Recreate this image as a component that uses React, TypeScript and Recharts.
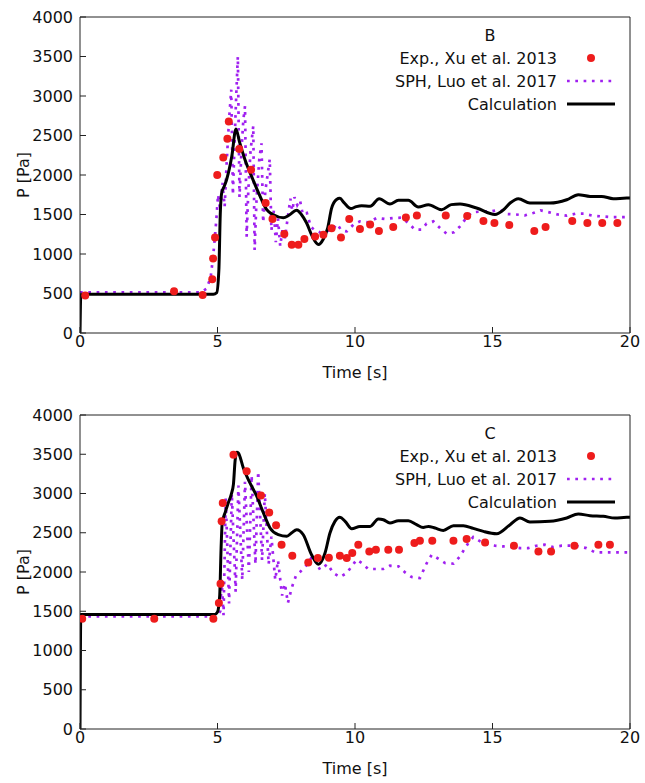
import React from 'react';
import { ComposedChart, Line, Scatter, XAxis, YAxis, Legend } from 'recharts';

// [time s, pressure Pa]
const B_EXP: [number, number][] = [
  [0.19, 476], [3.42, 527], [4.46, 482], [4.81, 680], [4.84, 944], [4.91, 1210],
  [4.99, 2000], [5.21, 2222], [5.36, 2459], [5.41, 2678], [5.79, 2329], [6.22, 2067],
  [6.75, 1646], [7.0, 1443], [7.43, 1253], [7.7, 1118], [7.94, 1118], [8.16, 1190],
  [8.55, 1222], [8.85, 1243], [9.15, 1327], [9.49, 1210], [9.79, 1443], [10.18, 1316],
  [10.55, 1375], [10.87, 1292], [11.39, 1343], [11.85, 1461], [12.25, 1486], [13.3, 1486],
  [14.08, 1481], [14.67, 1418], [15.07, 1393], [15.61, 1368], [16.52, 1292], [16.93, 1343],
  [17.9, 1418], [18.45, 1393], [18.99, 1393], [19.54, 1393],
];

const B_SPH: [number, number][] = [
  [0, 515], [4.4, 515], [4.6, 560], [4.75, 700], [4.85, 1000], [4.95, 1400], [5.02, 1750],
  [5.1, 1550], [5.18, 1900], [5.26, 1600], [5.34, 2200], [5.42, 2700], [5.5, 3080],
  [5.56, 1750], [5.62, 2400], [5.68, 3000], [5.74, 3500], [5.8, 1720], [5.87, 2300],
  [5.94, 2700], [6.0, 2870], [6.06, 1220], [6.12, 1800], [6.2, 2300], [6.3, 2620],
  [6.35, 1050], [6.42, 1700], [6.52, 2200], [6.6, 2400], [6.66, 1400], [6.74, 1800],
  [6.82, 2000], [6.9, 2200], [6.96, 1300], [7.05, 1550], [7.12, 1150], [7.2, 1450],
  [7.28, 1100], [7.36, 1300], [7.45, 1200], [7.55, 1450], [7.65, 1700], [7.72, 1550],
  [7.8, 1720], [7.9, 1620], [8.0, 1680], [8.1, 1500], [8.25, 1520], [8.4, 1340],
  [8.55, 1300], [8.75, 1270], [8.95, 1290], [9.15, 1300], [9.35, 1380], [9.5, 1300],
  [9.7, 1286], [9.94, 1371], [10.18, 1413], [10.48, 1400], [10.79, 1456], [11.09, 1443],
  [11.39, 1456], [11.7, 1460], [11.94, 1392], [12.18, 1308], [12.42, 1308], [12.6, 1384],
  [12.85, 1413], [13.09, 1329], [13.33, 1257], [13.6, 1274], [13.82, 1350], [14.0, 1434],
  [14.24, 1527], [14.67, 1540], [14.97, 1540], [15.25, 1561], [15.54, 1506], [15.85, 1500],
  [16.18, 1489], [16.48, 1519], [16.75, 1552], [17.07, 1527], [17.37, 1500], [17.7, 1485],
  [18.02, 1510], [18.33, 1510], [18.64, 1485], [18.97, 1476], [19.27, 1468], [19.6, 1468],
  [19.94, 1468],
];

const B_CALC: [number, number][] = [
  [0, 0], [0.03, 490], [1, 490], [2, 490], [3, 490], [4, 490], [4.85, 490], [4.97, 510],
  [5.05, 800], [5.1, 1500], [5.15, 1770], [5.25, 1860], [5.33, 1940], [5.52, 2236],
  [5.67, 2582], [5.8, 2420], [6.0, 2194], [6.24, 1982], [6.55, 1729], [6.79, 1561],
  [7.03, 1497], [7.39, 1460], [7.6, 1490], [7.88, 1555], [8.05, 1500], [8.24, 1392],
  [8.45, 1220], [8.67, 1120], [8.85, 1190], [9.0, 1320], [9.15, 1580], [9.33, 1690],
  [9.45, 1705], [9.6, 1650], [9.85, 1575], [10.05, 1600], [10.24, 1611], [10.55, 1603],
  [10.88, 1700], [11.27, 1633], [11.58, 1679], [11.94, 1679], [12.3, 1595], [12.67, 1624],
  [13.15, 1561], [13.5, 1625], [13.82, 1633], [14.42, 1582], [15.09, 1500], [15.4, 1560],
  [15.64, 1645], [15.94, 1700], [16.36, 1645], [17.09, 1645], [17.7, 1687], [18.12, 1750],
  [18.55, 1729], [18.97, 1729], [19.39, 1700], [19.88, 1708], [20, 1708],
];

const C_EXP: [number, number][] = [
  [0.08, 1405], [2.7, 1405], [4.85, 1405], [5.05, 1605], [5.11, 1851], [5.15, 2645],
  [5.19, 2879], [5.58, 3494], [6.06, 3282], [6.58, 2976], [6.88, 2759], [7.13, 2594],
  [7.33, 2348], [7.72, 2208], [8.3, 2122], [8.65, 2178], [9.05, 2180], [9.45, 2208],
  [9.7, 2178], [9.9, 2242], [10.12, 2348], [10.52, 2262], [10.76, 2284], [11.21, 2284],
  [11.6, 2284], [12.16, 2369], [12.36, 2399], [12.81, 2399], [13.58, 2399], [14.06, 2420],
  [14.73, 2377], [15.78, 2335], [16.67, 2262], [17.13, 2262], [17.98, 2335], [18.85, 2348],
  [19.27, 2348],
];

const C_SPH: [number, number][] = [
  [0, 1434], [4.9, 1434], [5.0, 1440], [5.1, 1500], [5.15, 1900], [5.22, 1450],
  [5.3, 2950], [5.42, 1600], [5.52, 3000], [5.66, 1750], [5.76, 3100], [5.9, 1900],
  [6.0, 3150], [6.14, 2000], [6.24, 3230], [6.38, 2100], [6.48, 3280], [6.62, 2150],
  [6.72, 3000], [6.86, 2100], [6.96, 2450], [7.1, 1900], [7.2, 2150], [7.35, 1700],
  [7.45, 1850], [7.56, 1605], [7.7, 1800], [7.85, 1950], [8.0, 2000], [8.2, 2070],
  [8.45, 2200], [8.73, 2029], [9.0, 2100], [9.21, 1987], [9.45, 1936], [9.7, 1987],
  [10.06, 2157], [10.24, 2115], [10.48, 2038], [10.79, 2038], [11.03, 2038], [11.27, 2080],
  [11.58, 2072], [11.82, 1995], [12.06, 1936], [12.36, 1923], [12.61, 2114], [12.79, 2220],
  [13.05, 2165], [13.27, 2114], [13.58, 2106], [13.82, 2199], [14.0, 2305], [14.12, 2369],
  [14.3, 2446], [14.55, 2390], [14.85, 2348], [15.09, 2335], [15.39, 2326], [15.7, 2318],
  [16.0, 2305], [16.3, 2305], [16.6, 2335], [16.9, 2348], [17.21, 2318], [17.52, 2335],
  [17.82, 2335], [18.12, 2326], [18.42, 2305], [18.73, 2250], [19.03, 2250], [19.39, 2250],
  [19.76, 2250], [19.95, 2250],
];

const C_CALC: [number, number][] = [
  [0, 0], [0.03, 1460], [1, 1460], [2, 1460], [3, 1460], [4, 1460], [4.9, 1460],
  [5.0, 1490], [5.08, 1700], [5.13, 2300], [5.17, 2620], [5.28, 2760], [5.39, 2879],
  [5.5, 2990], [5.58, 3120], [5.64, 3420], [5.7, 3525], [5.76, 3515], [5.94, 3325],
  [6.18, 3134], [6.43, 2963], [6.67, 2752], [6.91, 2561], [7.21, 2475], [7.52, 2454],
  [7.7, 2500], [7.88, 2539], [8.12, 2475], [8.42, 2220], [8.67, 2100], [8.91, 2242],
  [9.09, 2497], [9.27, 2645], [9.45, 2696], [9.64, 2645], [9.88, 2552], [10.18, 2581],
  [10.55, 2581], [10.85, 2675], [11.03, 2666], [11.27, 2624], [11.58, 2654], [11.94, 2654],
  [12.24, 2603], [12.48, 2568], [12.67, 2581], [12.91, 2560], [13.21, 2530], [13.58, 2590],
  [13.94, 2590], [14.3, 2556], [14.67, 2517], [15.15, 2488], [15.64, 2603], [16.0, 2688],
  [16.36, 2637], [17.09, 2645], [17.7, 2688], [18.12, 2739], [18.55, 2717], [19.03, 2709],
  [19.45, 2688], [19.88, 2696], [20, 2696],
];

const X_TICKS = [0, 5, 10, 15, 20];
const Y_TICKS = [0, 500, 1000, 1500, 2000, 2500, 3000, 3500, 4000];
const SERIES_NAMES = ['Exp., Xu et al. 2013', 'SPH, Luo et al. 2017', 'Calculation'];

const AXIS = '#222';
const RED = '#ee1c1c';
const PURPLE = '#a020f0';
const FONT = 16;

const toPts = (arr: [number, number][]) => arr.map(([t, p]) => ({ t, p }));

function ExpDot(props: any) {
  if (props.cx == null || props.cy == null) return null;
  return <circle cx={props.cx} cy={props.cy} r={4} fill={RED} />;
}

function LegendBox({ title }: { title: string }) {
  // wrapper starts at page x=300
  const rows = [41, 64, 87];
  return (
    <svg width={330} height={100} style={{ overflow: 'visible' }}>
      <text x={190} y={18} textAnchor="middle" dominantBaseline="central" fontSize={FONT} fill="#111">
        {title}
      </text>
      {SERIES_NAMES.map((name, i) => (
        <text key={name} x={257} y={rows[i]} textAnchor="end" dominantBaseline="central" fontSize={FONT} fill="#111">
          {name}
        </text>
      ))}
      <circle cx={291} cy={rows[0]} r={4} fill={RED} />
      <line x1={267} x2={315} y1={rows[1]} y2={rows[1]} stroke={PURPLE} strokeWidth={2.7} strokeDasharray="2.7 5.6" />
      <line x1={267} x2={315} y1={rows[2]} y2={rows[2]} stroke="#000" strokeWidth={3} />
    </svg>
  );
}

interface PanelProps {
  title: string;
  exp: [number, number][];
  sph: [number, number][];
  calc: [number, number][];
  top: number;
  marginTop: number;
  marginBottom: number;
}

function Panel({ title, exp, sph, calc, top, marginTop, marginBottom }: PanelProps) {
  return (
    <div style={{ position: 'absolute', left: 0, top, width: 645, height: 391 }}>
      <ComposedChart
        width={645}
        height={391}
        margin={{ top: marginTop, right: 8, bottom: marginBottom, left: 0 }}
      >
        <XAxis
          type="number"
          dataKey="t"
          domain={[0, 20]}
          ticks={X_TICKS}
          interval={0}
          allowDataOverflow
          height={50}
          tickSize={-6}
          tickMargin={9}
          stroke={AXIS}
          tick={{ fontSize: FONT, fill: '#111' }}
          label={(props: any) => {
            const vb = props.viewBox;
            return (
              <text x={vb.x + vb.width / 2} y={vb.y + 39} textAnchor="middle" dominantBaseline="central" fontSize={FONT} fill="#111">
                Time [s]
              </text>
            );
          }}
        />
        <XAxis
          xAxisId="top"
          orientation="top"
          type="number"
          domain={[0, 20]}
          ticks={X_TICKS}
          interval={0}
          height={1}
          tick={false}
          tickSize={-6}
          stroke={AXIS}
        />
        <YAxis
          type="number"
          dataKey="p"
          domain={[0, 4000]}
          ticks={Y_TICKS}
          interval={0}
          allowDataOverflow
          width={80}
          tickSize={-6}
          tickMargin={13}
          stroke={AXIS}
          tick={{ fontSize: FONT, fill: '#111' }}
          label={(props: any) => {
            const vb = props.viewBox;
            const cx = 23;
            const cy = vb.y + vb.height / 2;
            return (
              <text x={cx} y={cy} transform={`rotate(-90, ${cx}, ${cy})`} textAnchor="middle" dominantBaseline="central" fontSize={FONT} fill="#111">
                P [Pa]
              </text>
            );
          }}
        />
        <YAxis
          yAxisId="right"
          orientation="right"
          type="number"
          domain={[0, 4000]}
          ticks={Y_TICKS}
          interval={0}
          width={7}
          tick={false}
          tickSize={-6}
          stroke={AXIS}
        />
        <Scatter data={toPts(exp)} fill={RED} shape={ExpDot} isAnimationActive={false} />
        <Line
          data={toPts(sph)}
          dataKey="p"
          type="linear"
          stroke={PURPLE}
          strokeWidth={2.7}
          strokeDasharray="2.7 5.6"
          dot={false}
          activeDot={false}
          isAnimationActive={false}
        />
        <Line
          data={toPts(calc)}
          dataKey="p"
          type="monotone"
          stroke="#000"
          strokeWidth={3}
          dot={false}
          activeDot={false}
          isAnimationActive={false}
        />
        <Legend
          layout="vertical"
          align="center"
          verticalAlign="middle"
          wrapperStyle={{ left: 300, top: marginTop + 1, width: 330, height: 100 }}
          content={() => <LegendBox title={title} />}
        />
      </ComposedChart>
    </div>
  );
}

export default function App() {
  return (
    <div style={{ position: 'absolute', left: 0, top: 0, width: 645, height: 783, background: '#fff', fontFamily: '"DejaVu Sans", sans-serif' }}>
      <Panel title="B" exp={B_EXP} sph={B_SPH} calc={B_CALC} top={0} marginTop={16} marginBottom={8} />
      <Panel title="C" exp={C_EXP} sph={C_SPH} calc={C_CALC} top={392} marginTop={22} marginBottom={4} />
    </div>
  );
}
